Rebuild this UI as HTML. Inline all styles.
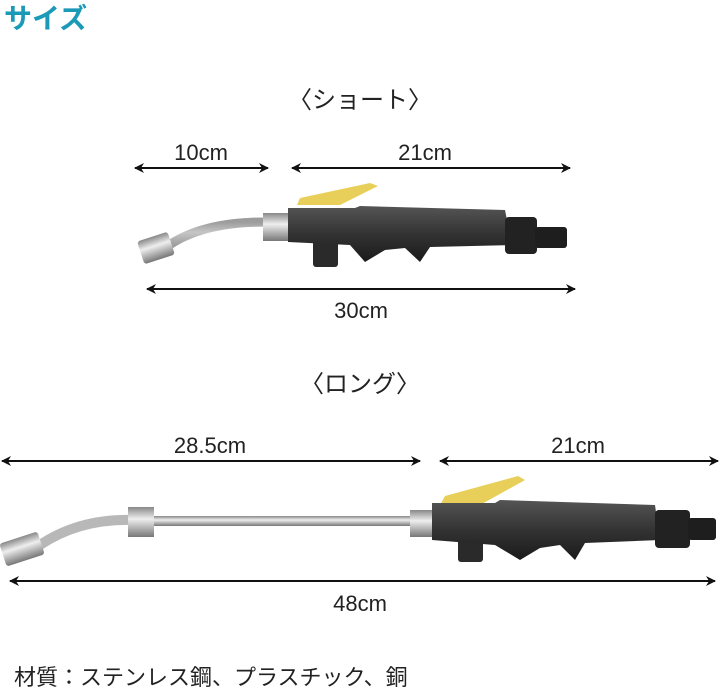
<!DOCTYPE html><html><head><meta charset="utf-8"><style>
body{margin:0;width:720px;height:694px;background:#fff;overflow:hidden;font-family:"Liberation Sans","Noto Sans CJK JP",sans-serif}
svg{position:absolute;left:0;top:0}
</style></head><body>
<svg width="720" height="694" viewBox="0 0 720 694" font-family="Liberation Sans, Noto Sans CJK JP, sans-serif">
<defs>
<marker id="a" markerWidth="10" markerHeight="10" refX="9" refY="5" orient="auto-start-reverse" markerUnits="userSpaceOnUse"><path d="M0,0 L10,5 L0,10 L3,5 Z" fill="#111"/></marker>
<linearGradient id="m" x1="0" y1="0" x2="0" y2="1"><stop offset="0" stop-color="#888"/><stop offset=".4" stop-color="#eee"/><stop offset="1" stop-color="#777"/></linearGradient>
<linearGradient id="b" x1="0" y1="0" x2="0" y2="1"><stop offset="0" stop-color="#555"/><stop offset=".5" stop-color="#333"/><stop offset="1" stop-color="#1a1a1a"/></linearGradient>
</defs>
<text x="4" y="28" font-size="28" font-weight="bold" fill="#1b9ab8">サイズ</text>
<text x="360" y="108" font-size="24" text-anchor="middle" fill="#222">〈ショート〉</text>
<g stroke="#111" stroke-width="2" marker-start="url(#a)" marker-end="url(#a)">
<line x1="135" y1="168" x2="268" y2="168"/><line x1="292" y1="168" x2="570" y2="168"/>
<line x1="147" y1="289" x2="575" y2="289"/>
<line x1="2" y1="461" x2="420" y2="461"/><line x1="440" y1="461" x2="718" y2="461"/>
<line x1="10" y1="581" x2="715" y2="581"/>
</g>
<g font-size="22" fill="#222" text-anchor="middle">
<text x="201" y="160">10cm</text><text x="425" y="160">21cm</text><text x="361" y="318">30cm</text>
<text x="210" y="453">28.5cm</text><text x="578" y="453">21cm</text><text x="360" y="611">48cm</text>
</g>
<text x="360" y="392" font-size="24" text-anchor="middle" fill="#222">〈ロング〉</text>
<text x="14" y="685" font-size="22" fill="#222">材質：ステンレス鋼、プラスチック、銅</text>

<!-- short gun -->
<g>
<path d="M165,248 Q200,222 265,222" stroke="url(#m)" stroke-width="9" fill="none" stroke="#bbb"/>
<path d="M165,248 Q200,222 265,222" stroke="#aaa" stroke-width="9" fill="none" opacity=".6"/>
<rect x="140" y="236" width="32" height="24" rx="3" fill="url(#m)" transform="rotate(-18 156 248)"/>
<rect x="263" y="213" width="25" height="28" fill="url(#m)"/>
<path d="M297,205 L300,198 L370,183 L378,186 L340,205 Z" fill="#e8cf5a"/>
<rect x="313" y="240" width="25" height="27" rx="3" fill="#2a2a2a"/>
<path d="M288,208 L355,208 L360,206 L505,210 L512,245 L430,247 L420,262 L405,248 L385,250 L365,262 L350,245 L288,242 Z" fill="url(#b)"/>
<rect x="505" y="217" width="32" height="37" rx="4" fill="#222"/>
<rect x="535" y="227" width="32" height="21" rx="3" fill="#1e1e1e"/>
</g>
<!-- long gun -->
<g>
<rect x="150" y="516" width="265" height="10" fill="url(#m)"/>
<path d="M40,545 Q80,518 135,520" stroke="#b8b8b8" stroke-width="10" fill="none"/>
<rect x="2" y="537" width="40" height="24" rx="3" fill="url(#m)" transform="rotate(-18 22 549)"/>
<rect x="128" y="507" width="26" height="30" fill="url(#m)"/>
<rect x="410" y="510" width="22" height="27" fill="url(#m)"/>
<path d="M440,505 L445,496 L518,476 L525,480 L480,505 Z" fill="#e8cf5a"/>
<rect x="458" y="537" width="25" height="25" rx="3" fill="#2a2a2a"/>
<path d="M432,503 L495,503 L500,500 L655,505 L660,540 L585,543 L575,560 L560,545 L540,548 L520,560 L495,545 L432,540 Z" fill="url(#b)"/>
<rect x="655" y="510" width="35" height="38" rx="4" fill="#222"/>
<rect x="688" y="518" width="28" height="22" rx="3" fill="#1e1e1e"/>
</g>
</svg>
</body></html>
